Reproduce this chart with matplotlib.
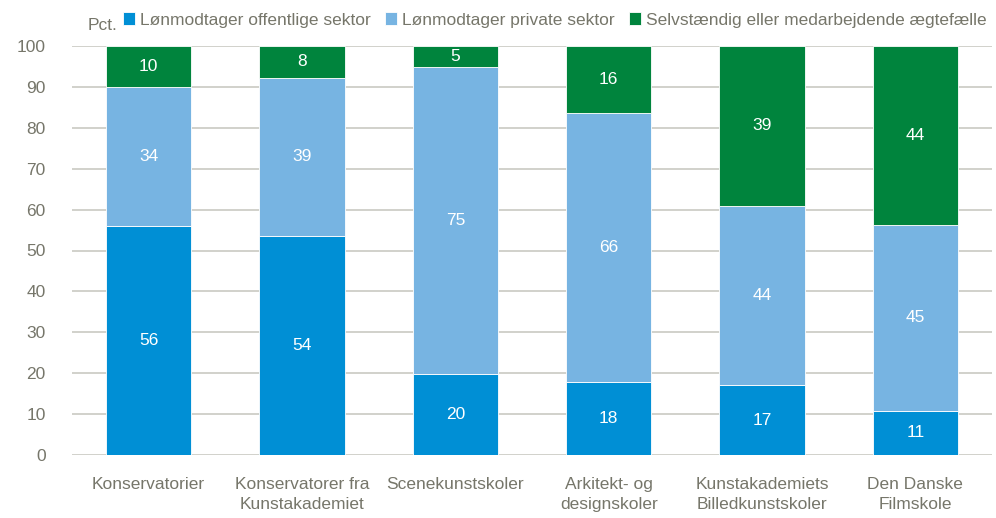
import matplotlib.pyplot as plt
import numpy as np

plt.rcParams['font.family'] = ['Liberation Sans Narrow', 'Liberation Sans', 'DejaVu Sans']

categories = ["Konservatorier", "Konservatorer fra\nKunstakademiet", "Scenekunstskoler",
              "Arkitekt- og\ndesignskoler", "Kunstakademiets\nBilledkunstskoler", "Den Danske\nFilmskole"]
offentlig = [56.0, 53.6, 19.8, 17.8, 17.1, 10.8]
privat = [34.0, 38.6, 75.0, 65.8, 43.8, 45.4]
selvstaendig = [10.0, 7.8, 5.2, 16.4, 39.1, 43.8]

series_names = ["Lønmodtager offentlige sektor", "Lønmodtager private sektor",
                "Selvstændig eller medarbejdende ægtefælle"]
colors = ["#008FD5", "#77B4E2", "#00843D"]
text_color = "#76766A"
grid_color = "#C9C9C2"

fig = plt.figure(figsize=(9.96, 5.18), dpi=100)
ax = fig.add_axes([72 / 996, 63 / 518, 920 / 996, 409 / 518])

x = np.arange(len(categories))
bottom = np.zeros(len(categories))
handles = []
for vals, name, c in zip([offentlig, privat, selvstaendig], series_names, colors):
    vals = np.array(vals)
    bars = ax.bar(x, vals, 0.555, bottom=bottom, color=c, edgecolor='white',
                  linewidth=0.6, label=name, zorder=3)
    handles.append(bars)
    for xi, b, v in zip(x, bottom, vals):
        ax.text(xi, b + v / 2, f"{round(v):.0f}", ha='center', va='center',
                color='white', fontsize=12.5, zorder=4)
    bottom += vals

ax.set_xlim(-0.5, len(categories) - 0.5)
ax.set_ylim(0, 100)
ax.set_yticks(range(0, 101, 10))
ax.yaxis.grid(True, color=grid_color, linewidth=1.2, zorder=0)
ax.set_axisbelow(True)
for s in ax.spines.values():
    s.set_visible(False)
ax.tick_params(axis='both', length=0, labelsize=12.5, labelcolor=text_color)
ax.tick_params(axis='y', pad=19)
ax.tick_params(axis='x', pad=16)
ax.set_xticks(x)
ax.set_xticklabels(categories, linespacing=1.4)

fig.text(88 / 996, 1 - 25 / 518, "Pct.", color=text_color, fontsize=12.5, va='center')

leg = fig.legend(handles=handles, labels=series_names, loc='center left',
                 bbox_to_anchor=(123 / 996, 1 - 20 / 518), ncol=3, frameon=False,
                 fontsize=12.5, handlelength=0.7, handleheight=0.7, handletextpad=0.3,
                 columnspacing=0.8, borderaxespad=0, borderpad=0)
for t in leg.get_texts():
    t.set_color(text_color)

fig.savefig("out.png", dpi=100)
